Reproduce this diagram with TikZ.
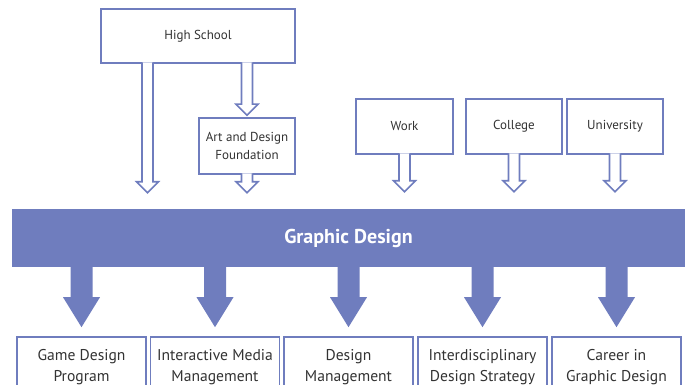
\documentclass[tikz,border=0pt]{standalone}
\usepackage{fontspec}
\setmainfont{PT Sans}
\usepackage{tikz}
\usetikzlibrary{positioning}
\usetikzlibrary{calc}

\definecolor{gdblue}{RGB}{111,125,190}
\definecolor{gdtext}{RGB}{51,51,51}

\tikzset{
	% outlined boxes, top row and bottom row
	source/.style={draw=gdblue, line width=1.6pt, fill=white, text=gdtext,
		font=\fontsize{13}{18}\selectfont, align=center, inner sep=0pt},
	course/.style={draw=gdblue, line width=1.6pt, fill=white, text=gdtext,
		font=\fontsize{15.6}{21}\selectfont, align=center, inner sep=0pt,
		minimum width=129pt, minimum height=60pt},
	% open arrow: shaft and head drawn as one outline, top left open
	hollow/.style={draw=gdblue, line width=1.6pt, fill=white, line join=miter,
		to path={let \p1=(\tikztostart), \p2=(\tikztotarget) in
			(\x1-5.5pt,\y1) -- (\x1-5.5pt,\y2+11pt) -- (\x1-11pt,\y2+11pt)
			-- (\x1,\y2) -- (\x1+11pt,\y2+11pt) -- (\x1+5.5pt,\y2+11pt)
			-- (\x1+5.5pt,\y1)}},
	% solid arrow out of the band
	bigarrow/.style={fill=gdblue, draw=none,
		to path={let \p1=(\tikztostart), \p2=(\tikztotarget) in
			(\x1-11pt,\y1) -- (\x1-11pt,\y2+30pt) -- (\x1-18.5pt,\y2+30pt)
			-- (\x1,\y2) -- (\x1+18.5pt,\y2+30pt) -- (\x1+11pt,\y2+30pt)
			-- (\x1+11pt,\y1) -- cycle}},
}

\begin{document}
\begin{tikzpicture}[x=1pt, y=-1pt]

	% Proper size --- page is the whole figure
	\useasboundingbox (0,0) rectangle (691,385);
	\clip (0,0) rectangle (691,385);

	% ------------------------------------------------
	% ENTRY ROUTES
	% ------------------------------------------------
	\node[source, minimum width=194pt, minimum height=54pt] (hs) at (198,36) {High School};
	\node[source, minimum width=96pt, minimum height=56pt] (art) at (247,146) {Art and Design\\Foundation};

	\node[source, minimum width=97pt, minimum height=55pt] (work) at (404.5,126.5) {Work};
	\node[source, minimum width=96pt, minimum height=55pt] (college) at (514,126.5) {College};
	\node[source, minimum width=96pt, minimum height=55pt] (uni) at (615,126.5) {University};

	% ------------------------------------------------
	% THE BAND
	% ------------------------------------------------
	\node[fill=gdblue, minimum width=673pt, minimum height=58pt, inner sep=0pt,
		text=white, font=\fontsize{20}{24}\bfseries] (band) at (348.5,238) {Graphic Design};

	% ------------------------------------------------
	% OUTCOMES
	% ------------------------------------------------
	\node[course] (game) at (81.5,367) {Game Design\\Program};
	\node[course] (media) at (215,367) {Interactive Media\\Management};
	\node[course] (dmgmt) at (348.5,367) {Design\\Management};
	\node[course] (inter) at (482.5,367) {Interdisciplinary\\Design Strategy};
	\node[course] (career) at (616.5,367) {Career in\\Graphic Design};

	% open arrows into the band
	\draw[hollow] ([xshift=-50.5pt,yshift=1.5pt]hs.south) to ([yshift=16pt]band.north);
	\draw[hollow] ([yshift=1.5pt]art.north |- hs.south) to ([yshift=2pt]art.north);
	\draw[hollow] ([yshift=1.5pt]art.south) to ([yshift=16pt]band.north);
	\draw[hollow] ([yshift=1.5pt]work.south) to ([yshift=17pt]band.north);
	\draw[hollow] ([yshift=1.5pt]college.south) to ([yshift=17pt]band.north);
	\draw[hollow] ([yshift=1.5pt]uni.south) to ([yshift=17pt]band.north);

	% solid arrows out of the band
	\foreach \dest in {game,media,dmgmt,inter,career}
		\path[bigarrow] ([yshift=1pt]band.south -| \dest.north) to ([yshift=9pt]\dest.north);

\end{tikzpicture}
\end{document}
